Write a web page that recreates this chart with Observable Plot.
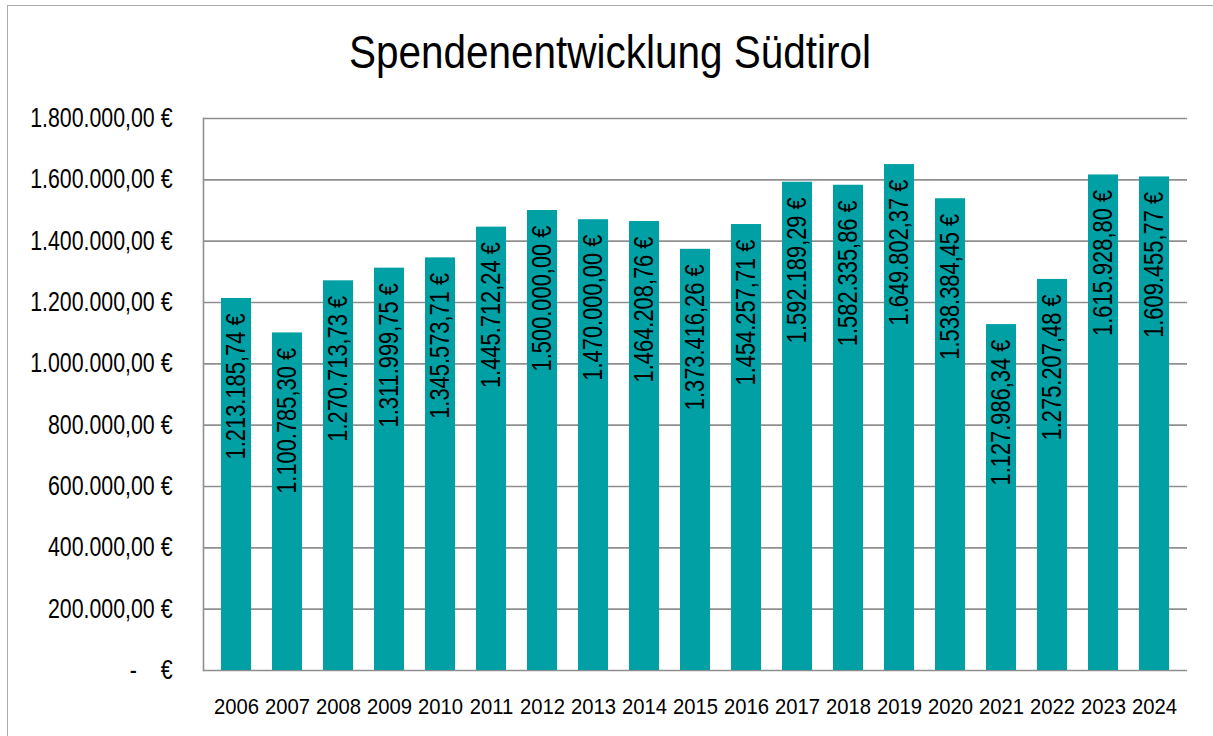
<!DOCTYPE html>
<html>
<head>
<meta charset="utf-8">
<script src="https://cdn.jsdelivr.net/npm/d3@7"></script>
<script src="https://cdn.jsdelivr.net/npm/@observablehq/plot@0.6"></script>
<style>
  html, body { margin: 0; padding: 0; background: #fff; }
  #wrap { position: relative; width: 1213px; height: 736px; overflow: hidden; background: #fff;
          font-family: "Liberation Sans", Arial, sans-serif; }
  #border { position: absolute; left: 7px; top: 5px; width: 1300px; height: 800px;
            border: 1.5px solid #ababab; box-sizing: border-box; }
  #title { position: absolute; left: 0; top: 29px; width: 1220px; text-align: center;
           font-size: 46px; line-height: 46px; color: #000;
           transform: scaleX(0.88); transform-origin: 610px 0; }
  #chart { position: absolute; left: 0; top: 90px; }
</style>
</head>
<body>
<div id="wrap">
  <div id="border"></div>
  <div id="title">Spendenentwicklung Südtirol</div>
  <div id="chart"></div>
</div>
<script>
const years = ["2006","2007","2008","2009","2010","2011","2012","2013","2014","2015","2016","2017","2018","2019","2020","2021","2022","2023","2024"];
const donations = [1213185.74, 1100785.30, 1270713.73, 1311999.75, 1345573.71, 1445712.24, 1500000.00, 1470000.00, 1464208.76, 1373416.26, 1454257.71, 1592189.29, 1582335.86, 1649802.37, 1538384.45, 1127986.34, 1275207.48, 1615928.80, 1609455.77];
const barLabels = ["1.213.185,74 €","1.100.785,30 €","1.270.713,73 €","1.311.999,75 €","1.345.573,71 €","1.445.712,24 €","1.500.000,00 €","1.470.000,00 €","1.464.208,76 €","1.373.416,26 €","1.454.257,71 €","1.592.189,29 €","1.582.335,86 €","1.649.802,37 €","1.538.384,45 €","1.127.986,34 €","1.275.207,48 €","1.615.928,80 €","1.609.455,77 €"];
const yTicks = [0, 200000, 400000, 600000, 800000, 1000000, 1200000, 1400000, 1600000, 1800000];
const yTickLabels = ["-\u00a0\u00a0\u00a0\u00a0€", "200.000,00 €", "400.000,00 €", "600.000,00 €", "800.000,00 €", "1.000.000,00 €", "1.200.000,00 €", "1.400.000,00 €", "1.600.000,00 €", "1.800.000,00 €"];

const data = years.map((y, i) => ({year: y, value: donations[i], label: barLabels[i]}));
const fontFam = '"Liberation Sans", Arial, sans-serif';
const FS = 27;

const chart = Plot.plot({
  width: 1213,
  height: 640,
  marginTop: 28,
  marginBottom: 60,
  marginLeft: 203,
  marginRight: 26,
  style: {fontFamily: fontFam, fontSize: FS + "px", color: "#000", background: "transparent"},
  x: {domain: years, paddingInner: 0.42, paddingOuter: 0.21, label: null},
  y: {domain: [0, 1800000], label: null},
  marks: [
    Plot.gridY(yTicks, {stroke: "#8f8f8f", strokeOpacity: 1, strokeWidth: 1.6}),
    Plot.frame({anchor: "left", stroke: "#8f8f8f", strokeWidth: 1.6}),
    Plot.barY(data, {x: "year", y: "value", fill: "#00a0a5"}),
    Plot.text(data, {x: "year", y: "value", text: "label", rotate: -90, textAnchor: "end", lineAnchor: "middle", dy: 15, fill: "#000", fontSize: FS}),
    Plot.axisY({ticks: yTicks, tickSize: 0, tickPadding: 31, tickFormat: (d) => yTickLabels[yTicks.indexOf(d)], fontSize: FS, fill: "#000"}),
    Plot.axisX({tickSize: 0, tickPadding: 28, fontSize: 22, fill: "#000"})
  ]
});
document.getElementById("chart").appendChild(chart);

// condense the text horizontally (the original uses a condensed typeface)
function condense(selector, k) {
  chart.querySelectorAll(selector).forEach((t) => {
    const w = t.getComputedTextLength();
    if (w > 0) {
      t.setAttribute("textLength", (w * k).toFixed(2));
      t.setAttribute("lengthAdjust", "spacingAndGlyphs");
    }
  });
}
condense('g[aria-label="y-axis tick label"] text', 0.79);
condense('g[aria-label="x-axis tick label"] text', 0.92);
condense('g[aria-label="text"] text', 0.81);
</script>
</body>
</html>
